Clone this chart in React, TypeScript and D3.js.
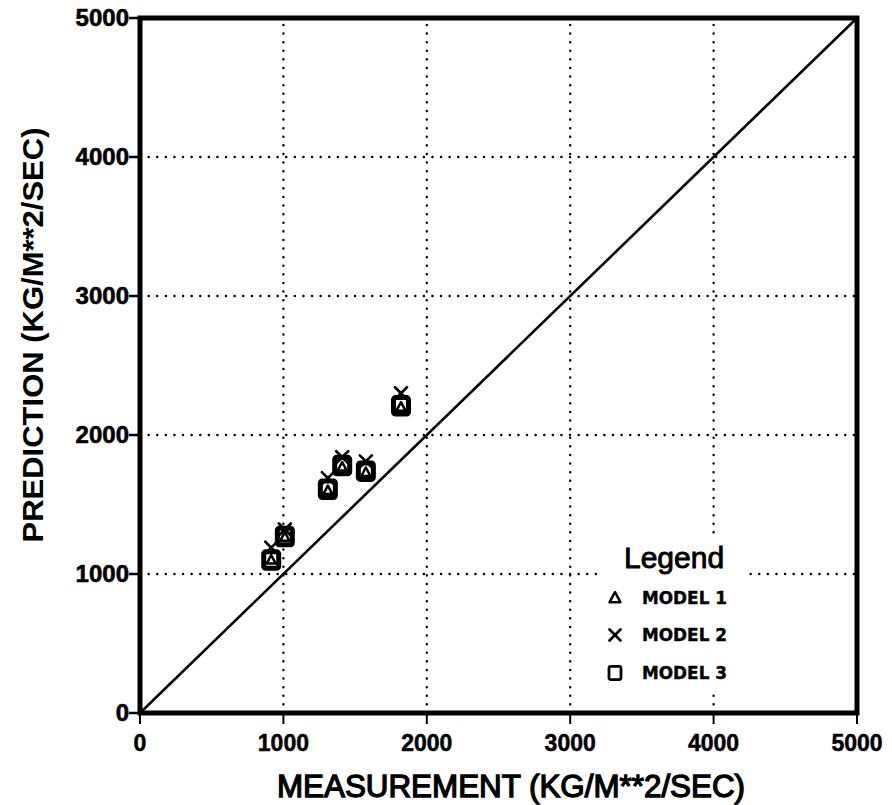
import React from 'react';
import { scaleLinear, line } from 'd3';

// values
const measurement = [915, 1010, 1310, 1410, 1575, 1820];
const model1 = [1100, 1265, 1600, 1770, 1730, 2200];
const model2 = [1190, 1320, 1690, 1840, 1810, 2300];
const model3 = [1100, 1270, 1610, 1780, 1740, 2210];
const ticks = [0, 1000, 2000, 3000, 4000, 5000];
const legendItems = ['MODEL 1', 'MODEL 2', 'MODEL 3'];

const W = 892;
const H = 805;
const left = 140;
const right = 857;
const top = 18;
const bottom = 713;

const Triangle = ({ cx, cy, s }: { cx: number; cy: number; s: number }) => (
    <path
        d={`M${cx},${cy - s} L${cx + s * 0.9},${cy + s * 0.7} L${cx - s * 0.9},${cy + s * 0.7} Z`}
        fill="none"
        stroke="#000"
        strokeWidth={2.5}
        strokeLinejoin="round"
    />
);

const Cross = ({ cx, cy, s }: { cx: number; cy: number; s: number }) => (
    <path
        d={`M${cx - s},${cy - s} L${cx + s},${cy + s} M${cx + s},${cy - s} L${cx - s},${cy + s}`}
        stroke="#000"
        strokeWidth={2.7}
        strokeLinecap="round"
    />
);

const Square = ({ cx, cy, s, w }: { cx: number; cy: number; s: number; w: number }) => (
    <rect
        x={cx - s}
        y={cy - s * 1.1}
        width={s * 2}
        height={s * 2.2}
        rx={2}
        fill="none"
        stroke="#000"
        strokeWidth={w}
    />
);

const App = () => {
    const x = scaleLinear().domain([0, 5000]).range([left, right]);
    const y = scaleLinear().domain([0, 5000]).range([bottom, top]);
    const diag = line<number>()
        .x((d) => x(d))
        .y((d) => y(d));

    const tickFont = 'Liberation Sans, Arial, sans-serif';

    return (
        <svg width={W} height={H} style={{ position: 'absolute', left: 0, top: 0 }}>
            <rect width={W} height={H} fill="#fff" />

            {/* dotted grid */}
            {ticks.slice(1, -1).map((t) => (
                <g key={`g${t}`} stroke="#000" strokeWidth={2.4} strokeDasharray="0.1,8.5" strokeLinecap="round">
                    <line x1={x(t)} x2={x(t)} y1={y(0)} y2={y(5000)} />
                    <line x1={x(0)} x2={x(5000)} y1={y(t)} y2={y(t)} />
                </g>
            ))}

            {/* 1:1 line */}
            <path d={diag([0, 5000]) || ''} stroke="#000" strokeWidth={2.6} fill="none" />

            {/* frame */}
            <rect
                x={left}
                y={top}
                width={right - left}
                height={bottom - top}
                fill="none"
                stroke="#000"
                strokeWidth={5}
            />

            {/* x axis */}
            {ticks.map((t) => (
                <g key={`x${t}`}>
                    <line x1={x(t)} x2={x(t)} y1={bottom} y2={bottom + 11} stroke="#000" strokeWidth={2} />
                    <text
                        x={x(t)}
                        y={751}
                        textAnchor="middle"
                        fontFamily={tickFont}
                        fontWeight="bold"
                        fontSize={23}
                        stroke="#000"
                        strokeWidth={0.5}
                    >
                        {t}
                    </text>
                </g>
            ))}

            {/* y axis */}
            {ticks.map((t) => (
                <g key={`y${t}`}>
                    <line x1={left - 11} x2={left} y1={y(t)} y2={y(t)} stroke="#000" strokeWidth={2.5} />
                    <text
                        x={129}
                        y={y(t) + 8}
                        textAnchor="end"
                        fontFamily={tickFont}
                        fontWeight="bold"
                        fontSize={24}
                        stroke="#000"
                        strokeWidth={0.6}
                    >
                        {t}
                    </text>
                </g>
            ))}

            {/* titles */}
            <text
                x={511}
                y={797}
                textAnchor="middle"
                fontFamily={tickFont}
                fontSize={31}
                stroke="#000"
                strokeWidth={1.3}
                textLength={468}
                lengthAdjust="spacingAndGlyphs"
            >
                MEASUREMENT (KG/M**2/SEC)
            </text>
            <text
                transform="translate(43,335) rotate(-90)"
                textAnchor="middle"
                fontFamily={tickFont}
                fontWeight="bold"
                fontSize={29}
                textLength={415}
                lengthAdjust="spacingAndGlyphs"
            >
                PREDICTION (KG/M**2/SEC)
            </text>

            {/* data */}
            {measurement.map((m, i) => (
                <g key={`p${i}`}>
                    <Square cx={x(m)} cy={y(model3[i])} s={7.5} w={5} />
                    <Triangle cx={x(m)} cy={y(model1[i])} s={5} />
                    <Cross cx={x(m)} cy={y(model2[i])} s={6} />
                </g>
            ))}

            {/* legend */}
            <rect x={598} y={536} width={150} height={156} fill="#fff" />
            <text x={624} y={568} fontFamily={tickFont} fontSize={30} stroke="#000" strokeWidth={0.9}>
                Legend
            </text>
            {legendItems.map((name, i) => {
                const cy = [598, 635, 673][i];
                return (
                    <g key={name}>
                        {i === 0 && <Triangle cx={615} cy={cy} s={6} />}
                        {i === 1 && <Cross cx={615} cy={cy} s={5.5} />}
                        {i === 2 && <Square cx={615} cy={cy} s={6} w={2.8} />}
                        <text
                            x={642}
                            y={cy + 6}
                            fontFamily="DejaVu Sans, sans-serif"
                            fontWeight="bold"
                            fontSize={17}
                            stroke="#000"
                            strokeWidth={0.4}
                            textLength={85}
                            lengthAdjust="spacingAndGlyphs"
                        >
                            {name}
                        </text>
                    </g>
                );
            })}
        </svg>
    );
};

export default App;
